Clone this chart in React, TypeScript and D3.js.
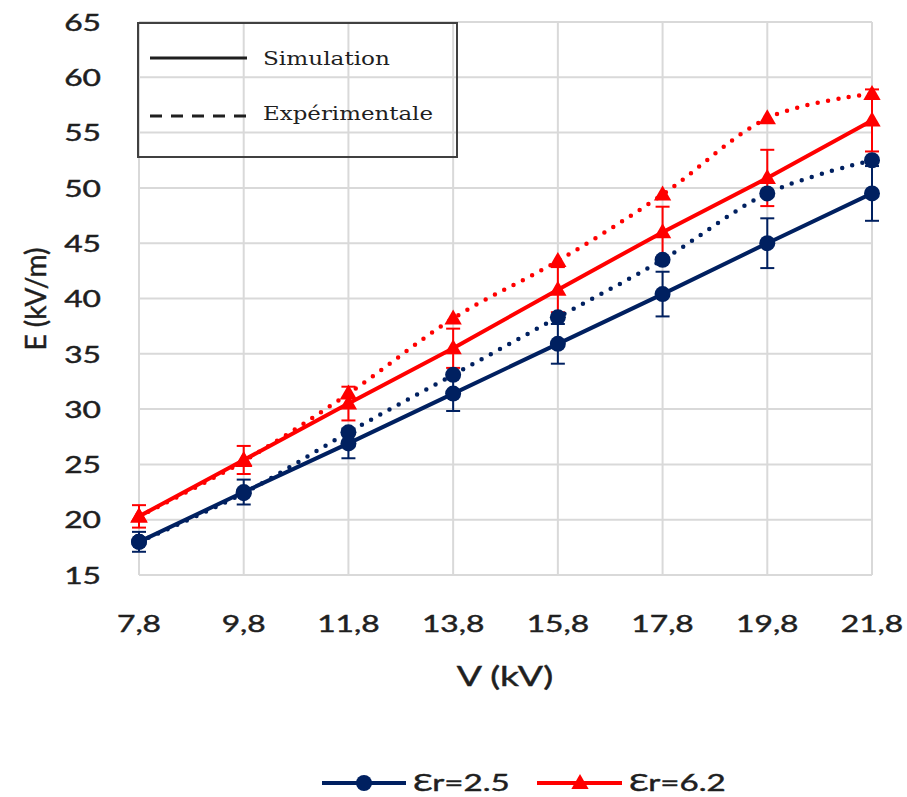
import React from "react";
import * as d3 from "d3";

const categories = ["7,8", "9,8", "11,8", "13,8", "15,8", "17,8", "19,8", "21,8"];
const simLow = [18.0, 22.5, 26.9, 31.4, 35.9, 40.4, 45.0, 49.5];
const expLow = [18.0, 22.4, 27.9, 33.1, 38.3, 43.5, 49.5, 52.5];
const simHigh = [20.3, 25.4, 30.5, 35.5, 40.8, 46.0, 50.9, 56.1];
const expHigh = [20.3, 25.3, 31.4, 38.2, 43.4, 49.4, 56.3, 58.5];
const yTicks = [15, 20, 25, 30, 35, 40, 45, 50, 55, 60, 65];
const errorPct = 0.05;
const legendLabels = ["Simulation", "Expérimentale"];
const seriesLabels = ["Ɛr=2.5", "Ɛr=6.2"];

const NAVY = "#002060";
const RED = "#FF0000";
const TXT = "#1f1f1f";
const GRID = "#d9d9d9";
const SANS = "Lato, 'Noto Sans', sans-serif";
const SX = 1.38;

const x = d3.scalePoint<string>().domain(categories).range([139, 872]).padding(0);
const y = d3.scaleLinear().domain([15, 65]).range([575, 22]);

const lineLin = d3.line<number>().x((_, i) => x(categories[i])!).y((d) => y(d));
const lineSmooth = d3
  .line<number>()
  .x((_, i) => x(categories[i])!)
  .y((d) => y(d))
  .curve(d3.curveCardinal.tension(0));

const triPath = d3.symbol().type(d3.symbolTriangle).size(130)()!;

function SText({ x, y, size, anchor = "middle", children, rotate = 0, sx = SX, family = SANS }: any) {
  return (
    <text
      transform={`translate(${x},${y}) scale(${sx},1) rotate(${rotate})`}
      textAnchor={anchor}
      dominantBaseline="central"
      fontFamily={family}
      fontSize={size}
      fill={TXT}
      stroke={TXT}
      strokeWidth={0.45}
    >
      {children}
    </text>
  );
}

function Marker({ cx, cy, kind, color }: any) {
  if (kind === "circle") return <circle cx={cx} cy={cy} r={8} fill={color} />;
  return <path d={triPath} transform={`translate(${cx},${cy + 1})`} fill={color} />;
}

function Series({ sim, exp, color, kind }: any) {
  return (
    <g>
      <path d={lineSmooth(exp)!} fill="none" stroke={color} strokeWidth={4.5} strokeDasharray="0 10.5" strokeLinecap="round" />
      <path d={lineLin(sim)!} fill="none" stroke={color} strokeWidth={4} />
      {sim.map((v: number, i: number) => {
        const cx = x(categories[i])!;
        const y0 = y(v * (1 - errorPct));
        const y1 = y(v * (1 + errorPct));
        return (
          <g key={"e" + i} stroke={color} strokeWidth={2}>
            <line x1={cx} x2={cx} y1={y0} y2={y1} />
            <line x1={cx - 7} x2={cx + 7} y1={y0} y2={y0} />
            <line x1={cx - 7} x2={cx + 7} y1={y1} y2={y1} />
          </g>
        );
      })}
      {exp.map((v: number, i: number) => (
        <Marker key={"x" + i} cx={x(categories[i])!} cy={y(v)} kind={kind} color={color} />
      ))}
      {sim.map((v: number, i: number) => (
        <Marker key={"s" + i} cx={x(categories[i])!} cy={y(v)} kind={kind} color={color} />
      ))}
    </g>
  );
}

export default function App() {
  return (
    <svg width={907} height={797} style={{ position: "absolute", left: 0, top: 0, background: "#fff" }}>
      <rect width={907} height={797} fill="#fff" />
      <g stroke={GRID} strokeWidth={2}>
        {yTicks.map((t) => (
          <line key={t} x1={139} x2={872} y1={y(t)} y2={y(t)} />
        ))}
        {categories.map((c) => (
          <line key={c} x1={x(c)!} x2={x(c)!} y1={y(65)} y2={y(15)} />
        ))}
      </g>
      {yTicks.map((t) => (
        <SText key={t} x={101} y={y(t)} size={23} anchor="end">
          {String(t)}
        </SText>
      ))}
      {categories.map((c) => (
        <SText key={c} x={x(c)!} y={623} size={23}>
          {c}
        </SText>
      ))}
      <SText x={505} y={676} size={27}>V (kV)</SText>
      <SText x={35} y={299} size={28} rotate={-90} sx={1}>E (kV/m)</SText>

      <Series sim={simHigh} exp={expHigh} color={RED} kind="tri" />
      <Series sim={simLow} exp={expLow} color={NAVY} kind="circle" />

      <rect x={138} y={23} width={319} height={134} fill="none" stroke="#404040" strokeWidth={2} />
      <line x1={150} x2={247} y1={58} y2={58} stroke={TXT} strokeWidth={3} />
      <line x1={150} x2={247} y1={116} y2={116} stroke={TXT} strokeWidth={3} strokeDasharray="12 9" />
      <text x={263} y={58} dominantBaseline="central" fontFamily="'DejaVu Serif', serif" fontSize={19} fill={TXT} textLength={127} lengthAdjust="spacingAndGlyphs">
        {legendLabels[0]}
      </text>
      <text x={263} y={113} dominantBaseline="central" fontFamily="'DejaVu Serif', serif" fontSize={19} fill={TXT} textLength={170} lengthAdjust="spacingAndGlyphs">
        {legendLabels[1]}
      </text>

      <line x1={322} x2={406} y1={783} y2={783} stroke={NAVY} strokeWidth={4} />
      <Marker cx={364} cy={783} kind="circle" color={NAVY} />
      <SText x={413} y={781} size={24} anchor="start">{seriesLabels[0]}</SText>
      <line x1={537} x2={622} y1={783} y2={783} stroke={RED} strokeWidth={4} />
      <Marker cx={580} cy={783} kind="tri" color={RED} />
      <SText x={629} y={781} size={24} anchor="start">{seriesLabels[1]}</SText>
    </svg>
  );
}
